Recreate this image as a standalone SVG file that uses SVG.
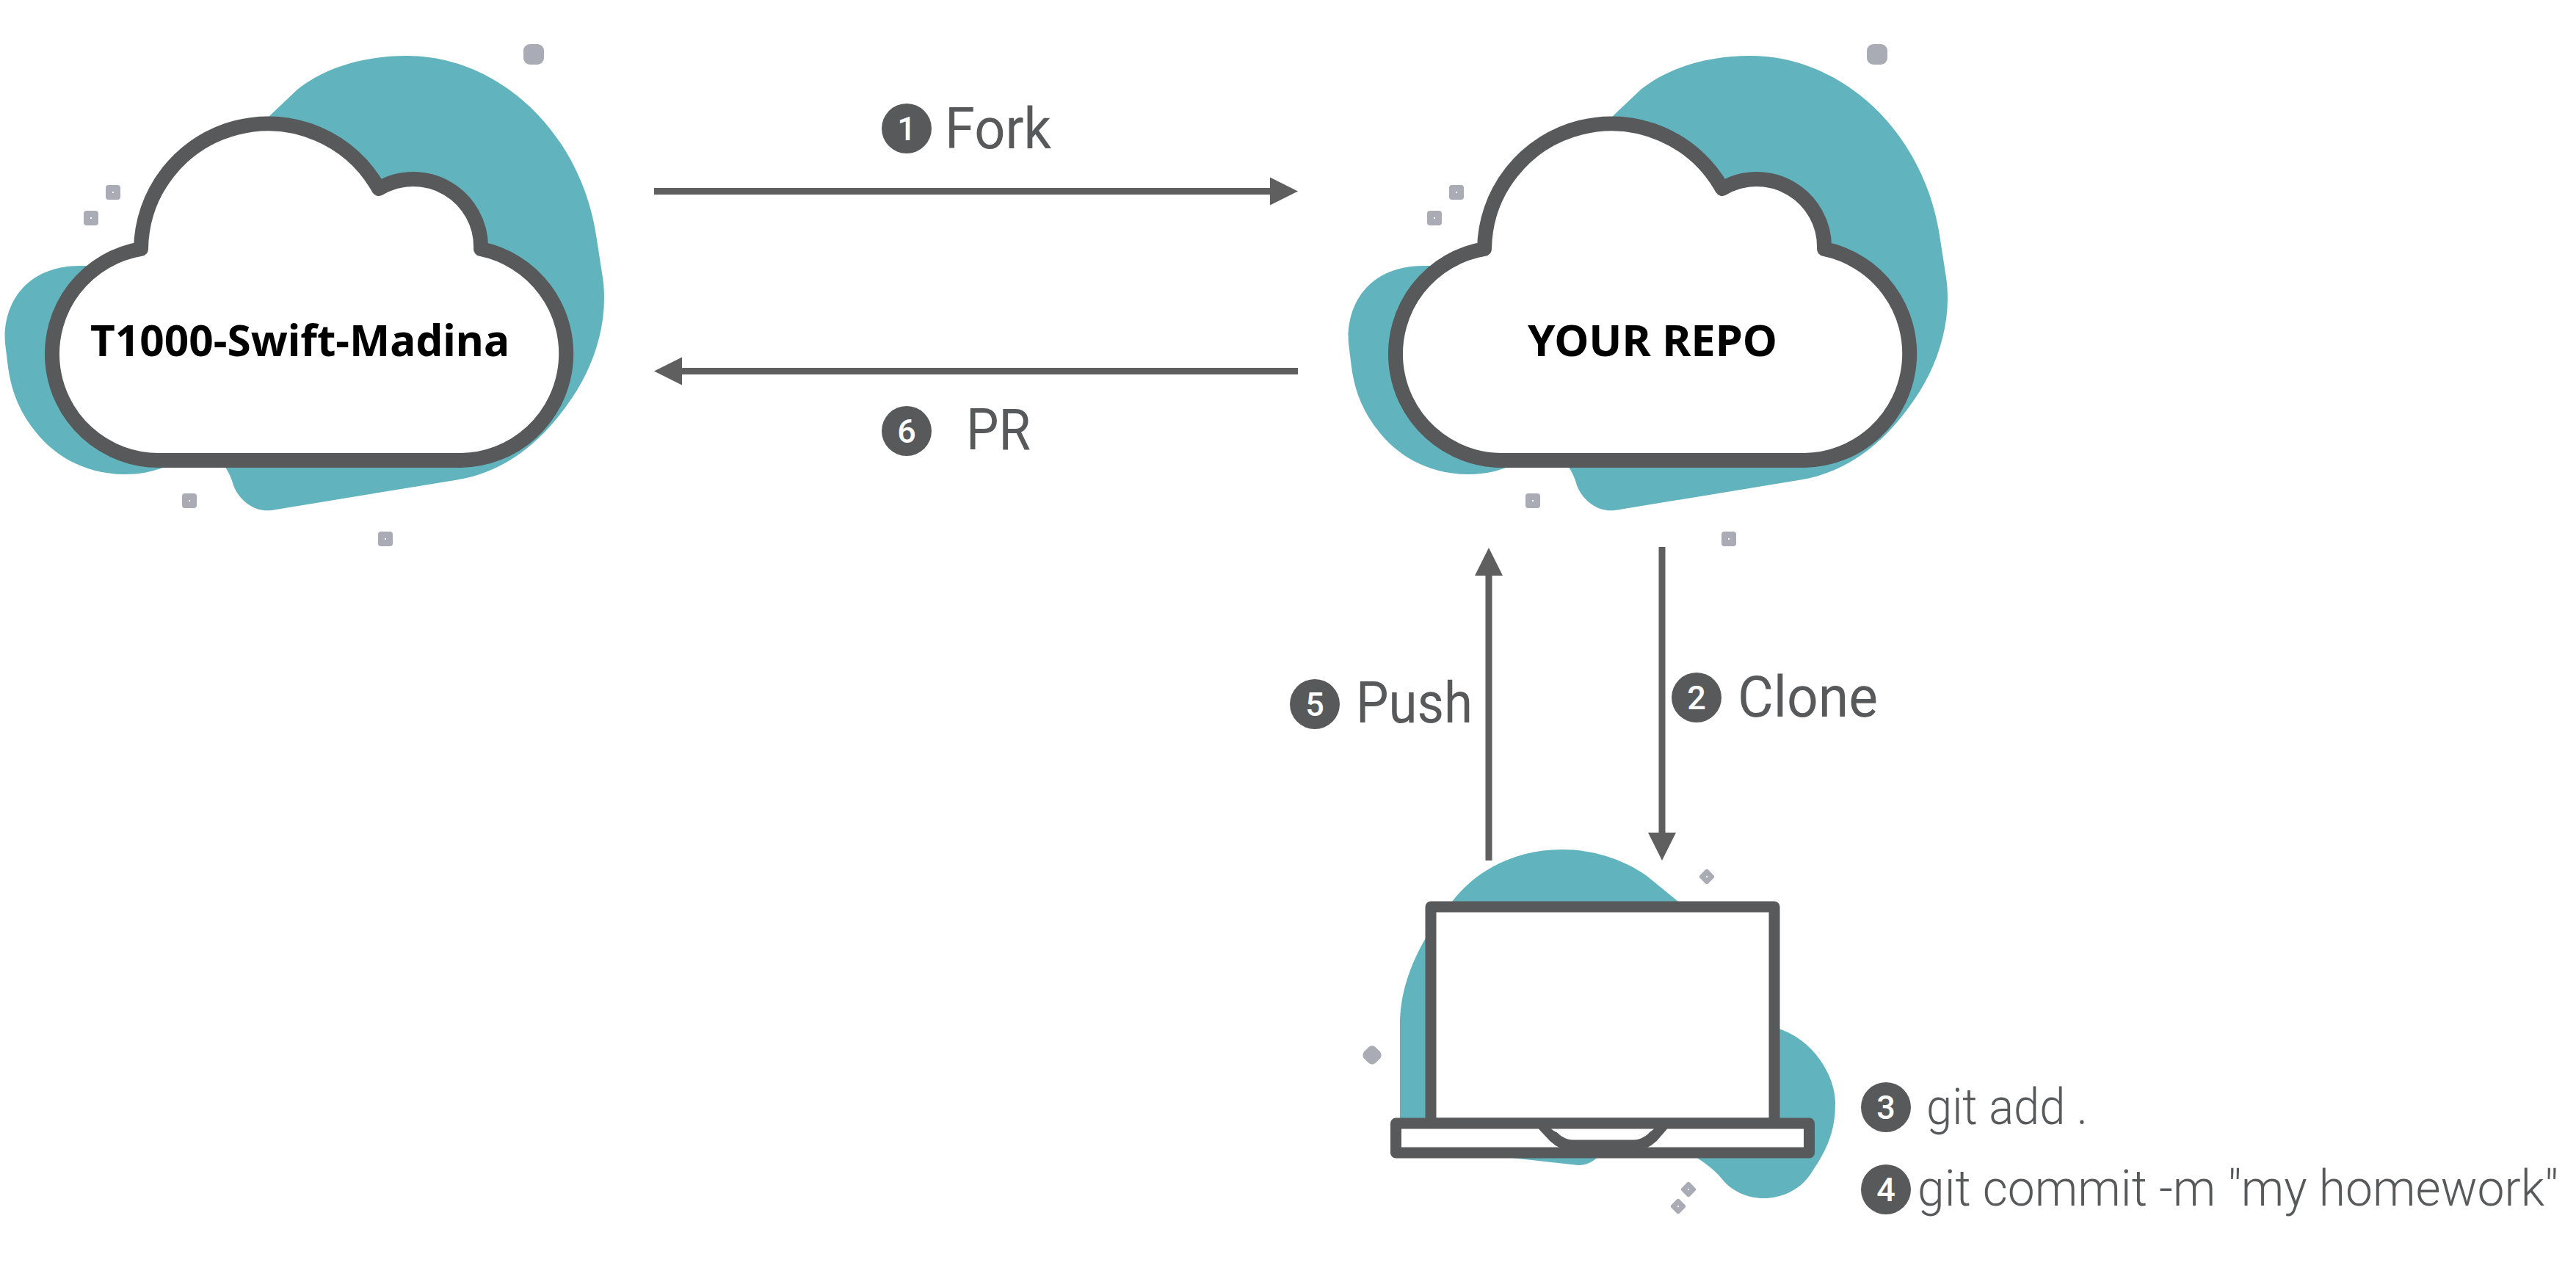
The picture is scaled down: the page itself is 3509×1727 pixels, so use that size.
<svg xmlns="http://www.w3.org/2000/svg" xmlns:xlink="http://www.w3.org/1999/xlink" width="3509" height="1727" viewBox="0 0 3509 1727">
<style>
.teal{fill:#61b4bd}
.dot{fill:#a9acb4}
.pin{fill:#fff}
.outline{fill:#fff;stroke:#58595b;stroke-width:20;stroke-linejoin:round}
.lap{fill:#fff;stroke:#58595b;stroke-width:15;stroke-linejoin:round}
.conn{stroke:#5f5f5f;stroke-width:9;fill:none;marker-end:url(#head)}
.badge{fill:#58595b}
.num{font-family:Roboto,"Liberation Sans",sans-serif;font-weight:500;font-size:45px;fill:#fff;text-anchor:middle}
.lbl{font-family:Roboto,"Liberation Sans",sans-serif;font-weight:400;font-size:78px;fill:#58595b}
.cmd{font-size:68px;font-weight:300}
.title{font-family:"Noto Sans","Open Sans",sans-serif;font-weight:700;font-size:60px;fill:#000}
</style>
<defs>
<marker id="head" markerUnits="userSpaceOnUse" markerWidth="40" markerHeight="40" refX="0" refY="20" orient="auto">
<path d="M0 1L38 20L0 39Z" fill="#5f5f5f"/>
</marker>
<g id="cloud">
<path class="teal" d="M367 158L405 122C445 90 500 76 554 76C680 76 790 180 812 320L821 378C830 440 808 505 770 555C730 610 680 645 620 654L370 695C345 698 325 680 318 661C315 650 312 645 307 636Z"/>
<path class="teal" d="M225 636C205 643 190 646 170 646C110 646 70 615 50 590C25 560 15 530 11 500L7 468C3 420 30 362 110 362L160 362L240 620Z"/>
<path class="outline" d="M217 627H628A145.500 145.500 0 0 0 655 339A92 92 0 0 0 516 257A173 173 0 0 0 192 339A145 145 0 0 0 217 627Z"/>
<rect class="dot" x="713" y="60" width="28" height="28" rx="9"/>
<rect class="dot" x="144" y="252" width="20" height="20" rx="4"/><rect class="pin" x="153" y="261" width="2" height="2"/>
<rect class="dot" x="114" y="287" width="20" height="20" rx="4"/><rect class="pin" x="123" y="296" width="2" height="2"/>
<rect class="dot" x="248" y="672" width="20" height="20" rx="4"/><rect class="pin" x="257" y="681" width="2" height="2"/>
<rect class="dot" x="515" y="724" width="20" height="20" rx="4"/><rect class="pin" x="524" y="733" width="2" height="2"/>
</g>
</defs>
<rect width="3509" height="1727" fill="#fff"/>

<g id="cloud-origin">
<use xlink:href="#cloud" href="#cloud"/>
<text class="title" x="123" y="485" textLength="571" lengthAdjust="spacingAndGlyphs">T1000-Swift-Madina</text>
</g>
<g id="cloud-your-repo">
<use xlink:href="#cloud" href="#cloud" transform="translate(1830 0)"/>
<text class="title" x="2081" y="485" textLength="340" lengthAdjust="spacingAndGlyphs">YOUR REPO</text>
</g>

<g id="laptop">
<path class="teal" d="M1978 1228C2010 1185 2065 1157 2128 1157C2170 1157 2210 1170 2242 1192L2291 1232L2291 1300L1943 1300L1943 1276C1920 1315 1907 1355 1907 1395L1907 1530L2059 1577L2150 1587C2160 1587 2170 1583 2177 1575Z"/>
<path class="teal" d="M2420 1400C2470 1415 2500 1465 2500 1502C2500 1540 2490 1565 2465 1601C2450 1622 2425 1632 2403 1632C2380 1632 2358 1622 2345 1605C2335 1592 2320 1583 2305 1572Z"/>
<rect class="lap" x="1949" y="1235" width="468" height="295"/>
<rect class="lap" x="1901.500" y="1530" width="563" height="40"/>
<path class="lap" d="M2102 1533L2117 1549C2124 1556 2134 1560 2142 1560H2226C2234 1560 2244 1556 2251 1549L2265 1533Z" stroke-linejoin="miter"/>
<path d="M2113 1537.500C2120 1543 2128 1546 2136 1546H2231C2240 1546 2247 1543 2253 1537.500Z" fill="#fff"/>
<rect class="dot" x="2317" y="1186" width="16" height="16" rx="3" transform="rotate(45 2325 1194)"/><rect class="pin" x="2324" y="1193" width="2" height="2"/>
<rect class="dot" x="1858" y="1426" width="22" height="22" rx="7" transform="rotate(45 1869 1437)"/>
<rect class="dot" x="2292" y="1612" width="16" height="16" rx="3" transform="rotate(45 2300 1620)"/><rect class="pin" x="2299" y="1619" width="2" height="2"/>
<rect class="dot" x="2278" y="1635" width="16" height="16" rx="3" transform="rotate(45 2286 1643)"/><rect class="pin" x="2285" y="1642" width="2" height="2"/>
</g>

<g id="connectors">
<line class="conn" x1="891" y1="260.500" x2="1730" y2="260.500"/>
<line class="conn" x1="1768" y1="505.500" x2="929" y2="505.500"/>
<line class="conn" x1="2264" y1="745" x2="2264" y2="1134"/>
<line class="conn" x1="2028" y1="1172" x2="2028" y2="784"/>
</g>

<g id="label-fork"><circle class="badge" cx="1235" cy="175" r="34"/><text class="num" x="1235" y="191">1</text><text class="lbl" x="1287" y="202" textLength="145" lengthAdjust="spacingAndGlyphs">Fork</text></g>
<g id="label-pr"><circle class="badge" cx="1235" cy="587" r="34"/><text class="num" x="1235" y="603">6</text><text class="lbl" x="1316" y="612" textLength="88" lengthAdjust="spacingAndGlyphs">PR</text></g>
<g id="label-clone"><circle class="badge" cx="2311" cy="950" r="34"/><text class="num" x="2311" y="966">2</text><text class="lbl" x="2367" y="976" textLength="191" lengthAdjust="spacingAndGlyphs">Clone</text></g>
<g id="label-push"><circle class="badge" cx="1791" cy="959" r="34"/><text class="num" x="1791" y="975">5</text><text class="lbl" x="1847" y="984" textLength="159" lengthAdjust="spacingAndGlyphs">Push</text></g>
<g id="label-add"><circle class="badge" cx="2569" cy="1508" r="34"/><text class="num" x="2569" y="1524">3</text><text class="lbl cmd" x="2624" y="1531" textLength="220" lengthAdjust="spacingAndGlyphs">git add .</text></g>
<g id="label-commit"><circle class="badge" cx="2569" cy="1620" r="34"/><text class="num" x="2569" y="1636">4</text><text class="lbl cmd" x="2612" y="1642" textLength="873" lengthAdjust="spacingAndGlyphs">git commit -m "my homework"</text></g>
</svg>
